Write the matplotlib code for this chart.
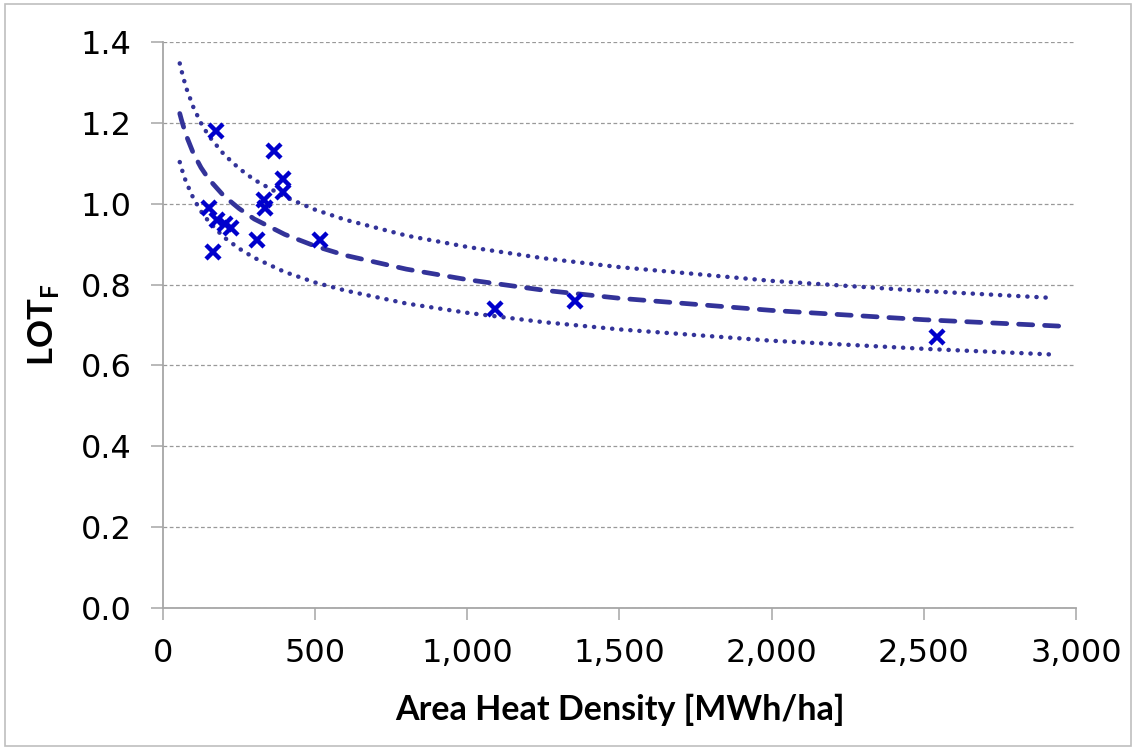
import matplotlib
matplotlib.use("Agg")
import matplotlib.pyplot as plt
from matplotlib.patches import Rectangle

# measured points
heat_density = [174, 365, 395, 395, 332, 334, 152, 176, 205, 222, 308, 165, 516, 1090, 1354, 2544]
lot_f = [1.18, 1.13, 1.06, 1.03, 1.01, 0.99, 0.99, 0.96, 0.95, 0.94, 0.91, 0.88, 0.91, 0.74, 0.76, 0.67]

# trend line and band
trend_x = [55, 60, 75, 100, 125, 150, 200, 250, 300, 400, 500, 600, 800, 1000, 1250, 1500, 2000, 2500, 2950]
trend_y = [1.223, 1.209, 1.171, 1.124, 1.089, 1.061, 1.019, 0.988, 0.962, 0.924, 0.895, 0.872, 0.838,
           0.812, 0.786, 0.766, 0.736, 0.713, 0.697]
band_x = [55, 60, 75, 100, 125, 150, 200, 250, 300, 400, 500, 600, 800, 1000, 1250, 1500, 2000, 2500, 2920]
upper_y = [1.347, 1.331, 1.289, 1.238, 1.199, 1.168, 1.122, 1.087, 1.059, 1.017, 0.985, 0.960, 0.921,
           0.893, 0.865, 0.843, 0.809, 0.784, 0.767]
lower_y = [1.103, 1.089, 1.055, 1.013, 0.981, 0.956, 0.917, 0.889, 0.866, 0.831, 0.805, 0.785, 0.753,
           0.730, 0.707, 0.689, 0.661, 0.641, 0.627]

x_ticks = [0, 500, 1000, 1500, 2000, 2500, 3000]
y_ticks = [0.0, 0.2, 0.4, 0.6, 0.8, 1.0, 1.2, 1.4]

plt.rcParams["mathtext.fontset"] = "custom"
plt.rcParams["mathtext.rm"] = "Lato:bold"

line_col = "#333399"
fig = plt.figure(figsize=(11.36, 7.49), dpi=100)
ax = fig.add_axes([0.1435, 0.1883, 0.8036, 0.7557])

ax.plot(band_x, upper_y, color=line_col, lw=3.2, linestyle=(0, (0.05, 2.0)), dash_capstyle="round")
ax.plot(band_x, lower_y, color=line_col, lw=3.2, linestyle=(0, (0.05, 2.0)), dash_capstyle="round")
ax.plot(trend_x, trend_y, color=line_col, lw=3.4, linestyle=(0, (3.0, 2.5)), dash_capstyle="round")
ax.plot(heat_density, lot_f, linestyle="none", marker="x", color="#0000CC", markersize=10, mew=3.2)

ax.set_xlim(0, 3000)
ax.set_ylim(0, 1.4)
ax.set_xticks(x_ticks)
ax.set_xticklabels([f"{v:,}" for v in x_ticks])
ax.set_yticks(y_ticks)
ax.set_yticklabels([f"{v:.1f}" for v in y_ticks])
ax.grid(axis="y", color="#999999", linestyle=(0, (3, 2)), lw=0.9)
ax.set_axisbelow(True)

for s in ["top", "right"]:
    ax.spines[s].set_visible(False)
for s in ["left", "bottom"]:
    ax.spines[s].set_color("#a6a6a6")
    ax.spines[s].set_linewidth(1.3)
ax.tick_params(axis="both", direction="out", length=8.5, width=1.1, color="#a6a6a6",
               labelsize=23, labelcolor="black")
ax.tick_params(axis="y", pad=14)
ax.tick_params(axis="x", pad=13)

ax.set_xlabel("Area Heat Density [MWh/ha]", family="Lato", fontweight="bold", fontsize=24.5, labelpad=18)
ax.set_ylabel(r"LOT$_{\mathrm{F}}$", family="Lato", fontweight="bold", fontsize=25, labelpad=14)

fig.patches.append(Rectangle((0.004, 0.004), 0.992, 0.99, transform=fig.transFigure,
                             fill=False, edgecolor="#bfbfbf", lw=1.2))

fig.savefig("out.png", dpi=100)
